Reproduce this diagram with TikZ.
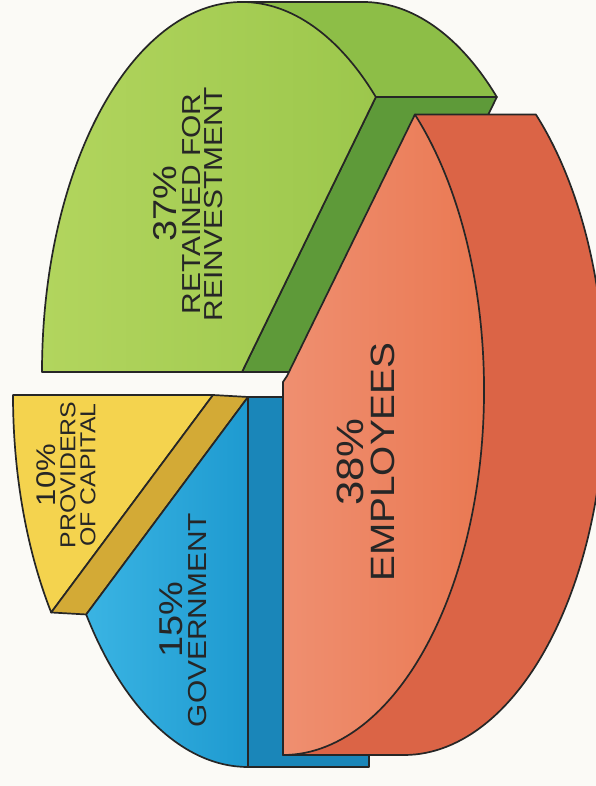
\documentclass[tikz,border=0pt]{standalone}
\usepackage{fontspec}
\newfontfamily\piefont[FakeStretch=1.15]{Liberation Sans}
\definecolor{paper}{HTML}{FBFAF6}
\definecolor{greenlight}{HTML}{B2D55E}
\definecolor{greenface}{HTML}{9CC74C}
\definecolor{greenside}{HTML}{8DBE47}
\definecolor{greenband}{HTML}{5E9A39}
\definecolor{redlight}{HTML}{EF8F70}
\definecolor{redface}{HTML}{E9764F}
\definecolor{redside}{HTML}{DB6446}
\definecolor{yellowface}{HTML}{F4D34E}
\definecolor{goldband}{HTML}{D3AA36}
\definecolor{bluelight}{HTML}{3AB4E3}
\definecolor{blueface}{HTML}{1E9AD0}
\definecolor{blueside}{HTML}{1A86B9}
\begin{document}
\begin{tikzpicture}[x=1pt,y=1pt,
    outline/.style={draw=black!85,line width=1.7pt,line join=round},
    pietext/.style={rotate=90,align=center,text=black!85}]
  \useasboundingbox (0,0) rectangle (596,786);
  \fill[paper] (0,0) rectangle (596,786);
  \clip (0,0) rectangle (596,786);
  % retained for reinvestment
  \draw[outline,fill=greenside] (242,784) -- (363,784)
    arc[start angle=90,end angle=48,x radius=200,y radius=370]
    -- (375.83,688.96) -- cycle;
  \draw[outline,fill=greenband] (375.83,688.96) -- (496.83,688.96)
    -- (363,414) -- (242,414) -- cycle;
  \draw[outline,left color=greenlight,right color=greenface] (242,414) -- (42,414)
    arc[start angle=180,end angle=48,x radius=200,y radius=370] -- cycle;
  % providers of capital and government
  \draw[outline,fill=yellowface] (213,391) -- (13,391)
    arc[start angle=180,end angle=216,x radius=200,y radius=370] -- cycle;
  \draw[outline,fill=goldband] (213,391) -- (51.2,173.52)
    -- (86.2,171.52) -- (248,389) -- cycle;
  \draw[outline,fill=blueside] (248,19) rectangle (369,389);
  \draw[outline,left color=bluelight,right color=blueface] (248,389) -- (86.2,171.52)
    arc[start angle=216,end angle=270,x radius=200,y radius=370] -- cycle;
  % employees
  \draw[outline,fill=redside] (414.9,671.47) -- (535.9,671.47)
    arc[start angle=49,end angle=-90,x radius=201,y radius=365]
    -- (283,31) -- cycle;
  \draw[outline,left color=redlight,right color=redface] (283,404) -- (287,410)
    -- (414.9,671.47)
    arc[start angle=49,end angle=-90,x radius=201,y radius=365] -- cycle;
  % labels
  \node[pietext,font=\piefont\fontsize{26}{22}\selectfont] (retained) at (188,582)
    {{\fontsize{33}{22}\selectfont 37\%}\\[2pt]RETAINED FOR\\REINVESTMENT};
  \node[pietext,font=\piefont\fontsize{21.6}{20}\selectfont] (capital) at (66,311)
    {{\fontsize{27}{20}\selectfont 10\%}\\PROVIDERS\\OF CAPITAL};
  \node[pietext,font=\piefont\fontsize{26}{24}\selectfont] (government) at (183,166)
    {{\fontsize{33}{24}\selectfont 15\%}\\GOVERNMENT};
  \node[pietext,font=\piefont\fontsize{33.7}{31}\selectfont] (employees) at (366,324)
    {{\fontsize{38}{31}\selectfont 38\%}\\EMPLOYEES};
\end{tikzpicture}
\end{document}
